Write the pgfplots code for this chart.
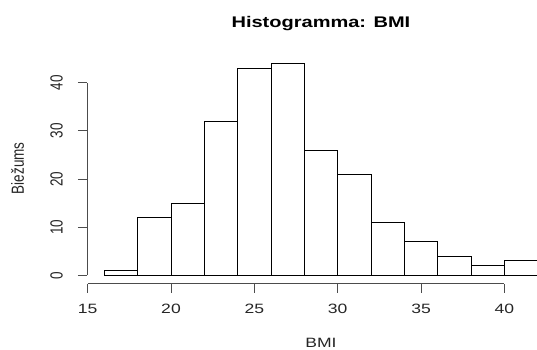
\documentclass[border=0pt]{standalone}
\usepackage{pgfplots}
\pgfplotsset{compat=1.18}
\usepackage{graphicx}
\usepackage{fontspec}
\setmainfont{Liberation Sans}[FakeStretch=1.3]
\newfontfamily\rotfont{Liberation Sans}
\begin{document}
\begin{tikzpicture}
\begin{axis}[
  at={(87pt,65.2pt)}, anchor=south west,
  scale only axis, width=450.7pt, height=228.8pt,
  xmin=14.96, xmax=42.0, ymin=-1.76, ymax=45.76,
  clip=false,
  axis x line*=bottom, axis y line*=left,
  axis line style={draw=none},
  tick align=outside, major tick length=9pt,
  tick style={black!70, line width=0.8pt},
  xtick={15,20,...,40}, ytick={0,10,...,40},
  minor tick num=0,
  /pgf/number format/assume math mode=true,
  xticklabel style={font=\fontsize{13.5}{16}\selectfont, anchor=base, text=black!85},
  xticklabel shift=21pt,
  yticklabel style={font=\rotfont\fontsize{13.5}{16}\selectfont, rotate=90, anchor=base, text=black!85},
  yticklabel shift=15.3pt,
  yticklabel={\scalebox{1}[1.3]{\pgfmathprintnumber{\tick}}},
  title={Histogramma: BMI},
  title style={at={(rel axis cs:0.519,1.093)}, anchor=base, font=\bfseries\fontsize{15.4}{18}\selectfont},
  xlabel={BMI},
  xlabel style={at={(rel axis cs:0.519,-0.278)}, anchor=base, font=\fontsize{13.5}{16}\selectfont, text=black!85},
  ylabel={\scalebox{1}[1.3]{Biežums}},
  ylabel style={at={(rel axis cs:-0.1398,0.505)}, anchor=base, font=\rotfont\fontsize{13.5}{16}\selectfont, text=black!85},
]
\addplot[ybar interval, draw=black, fill=white, line width=0.8pt] coordinates {
(16,1) (18,12) (20,15) (22,32) (24,43) (26,44) (28,26) (30,21) (32,11) (34,7) (36,4) (38,2) (40,3) (42,3)};
\draw[black!70, line width=0.8pt] (axis cs:15,-1.76) -- (axis cs:40,-1.76);
\draw[black!70, line width=0.8pt] (axis cs:14.96,0) -- (axis cs:14.96,40);
\end{axis}
\pgfresetboundingbox
\useasboundingbox (0pt,0pt) rectangle (537pt,349pt);
\end{tikzpicture}
\end{document}
